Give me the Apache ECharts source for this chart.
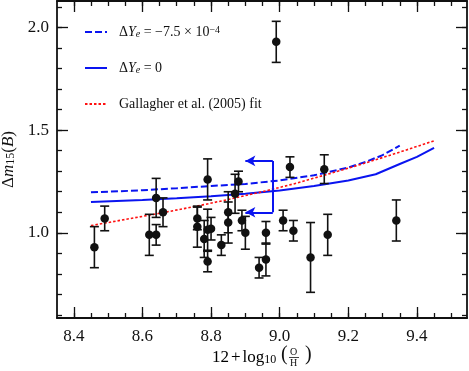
<!DOCTYPE html>
<html>
<head>
<meta charset="utf-8">
<script src="https://cdn.jsdelivr.net/npm/echarts@6/dist/echarts.min.js"></script>
<style>
html,body{margin:0;padding:0;background:#fff;}
#chart{width:469px;height:371px;}
</style>
</head>
<body>
<div id="chart"></div>
<script>
// observed SNe: metallicity, decline rate, error
const obsX = [8.46, 8.49, 8.62, 8.64, 8.64, 8.66, 8.76, 8.76, 8.78, 8.79, 8.79, 8.79, 8.80, 8.83, 8.85, 8.85,
  8.87, 8.88, 8.89, 8.90, 8.94, 8.96, 8.96, 8.99, 9.01, 9.03, 9.04, 9.09, 9.13, 9.14, 9.34];
const obsY = [0.93, 1.07, 0.99, 1.17, 0.99, 1.10, 1.07, 1.03, 0.97, 1.26, 1.015, 0.86, 1.02, 0.94, 1.10, 1.05,
  1.19, 1.25, 1.06, 1.00, 0.83, 1.00, 0.87, 1.93, 1.06, 1.32, 1.01, 0.88, 1.31, 0.99, 1.06];
const obsErr = [0.10, 0.06, 0.10, 0.095, 0.05, 0.07, 0.055, 0.10, 0.09, 0.10, 0.10, 0.05, 0.055, 0.05, 0.10, 0.10,
  0.095, 0.05, 0.05, 0.08, 0.05, 0.055, 0.08, 0.10, 0.05, 0.05, 0.05, 0.17, 0.07, 0.10, 0.10];

// model curves
const dashedX = [8.45, 8.6, 8.7, 8.8, 8.9, 9.0, 9.1, 9.2, 9.25, 9.3, 9.35];
const dashedY = [1.197, 1.207, 1.217, 1.228, 1.238, 1.255, 1.28, 1.318, 1.345, 1.378, 1.425];
const solidX = [8.45, 8.6, 8.7, 8.8, 8.9, 9.0, 9.1, 9.2, 9.28, 9.35, 9.4, 9.45];
const solidY = [1.15, 1.16, 1.168, 1.178, 1.19, 1.206, 1.228, 1.255, 1.285, 1.335, 1.37, 1.414];
const fitX = [8.45, 8.55, 8.65, 8.75, 8.85, 8.95, 9.05, 9.15, 9.25, 9.35, 9.45];
const fitY = [1.035, 1.065, 1.095, 1.127, 1.162, 1.2, 1.242, 1.29, 1.34, 1.393, 1.448];

// bracket with arrows
const bracketX = 8.98, bracketTop = 1.35, bracketBottom = 1.10, arrowTipX = 8.90;

// ticks
const xMajor = [8.4, 8.6, 8.8, 9.0, 9.2, 9.4];
const yMajor = [1.0, 1.5, 2.0];
const xMinor = [], yMinor = [];
for (let v = 8.35; v < 9.56; v += 0.05) xMinor.push(+v.toFixed(2));
for (let v = 0.6; v < 2.15; v += 0.1) yMinor.push(+v.toFixed(1));

const X_MIN = 8.351, X_MAX = 9.546, Y_MIN = 0.585, Y_MAX = 2.129;
const FONT = 'Liberation Serif';
const INK = '#111';
const BLUE = '#0a14f0';
const RED = '#ff1010';

const names = ['dYm', 'dY0', 'gal'];
const labels = {
  dYm: '{n|Δ}{i|Y}{s|e}{n| = −7.5 × 10}{p|−4}',
  dY0: '{n|Δ}{i|Y}{s|e}{n| = 0}',
  gal: '{n|Gallagher et al. (2005) fit}'
};
const rich = {
  n: {fontFamily: FONT, fontSize: 14, color: INK},
  i: {fontFamily: FONT, fontSize: 14, fontStyle: 'italic', color: INK},
  s: {fontFamily: FONT, fontSize: 10, fontStyle: 'italic', color: INK, verticalAlign: 'bottom', lineHeight: 8},
  p: {fontFamily: FONT, fontSize: 10, color: INK, verticalAlign: 'top', lineHeight: 8}
};

const pts = obsX.map((x, k) => [x, obsY[k], obsErr[k]]);
const zip = (a, b) => a.map((v, k) => [v, b[k]]);

function valueAxis(type, grid, pos, major, withLabel) {
  const isX = type === 'x';
  return {
    type: 'value', gridIndex: grid, position: pos,
    min: isX ? X_MIN : Y_MIN, max: isX ? X_MAX : Y_MAX,
    axisLine: {show: grid === 0, lineStyle: {color: INK, width: 1.8}},
    axisTick: {show: true, inside: true, length: major ? 11 : 5,
      customValues: major ? (isX ? xMajor : yMajor) : (isX ? xMinor : yMinor),
      lineStyle: {color: INK, width: 1.3}},
    axisLabel: {show: withLabel, customValues: isX ? xMajor : yMajor, margin: isX ? 10 : 8,
      color: INK, formatter: v => '{t|' + v.toFixed(1) + '}',
      rich: {t: {fontFamily: FONT, fontSize: 17, color: INK}}},
    splitLine: {show: false}
  };
}

const xAxes = [
  valueAxis('x', 0, 'bottom', true, true),
  valueAxis('x', 0, 'top', true, false),
  valueAxis('x', 1, 'bottom', false, false),
  valueAxis('x', 1, 'top', false, false)
];

const yAxes = [
  valueAxis('y', 0, 'left', true, true),
  valueAxis('y', 0, 'right', true, false),
  valueAxis('y', 1, 'left', false, false),
  valueAxis('y', 1, 'right', false, false)
];
yAxes[0].name = '{n|Δ}{i|m}{q|15}{n|(}{i|B}{n|)}';
yAxes[0].nameLocation = 'middle';
yAxes[0].nameGap = 38;
yAxes[0].nameTextStyle = {rich: {
  n: {fontFamily: FONT, fontSize: 17, color: INK},
  i: {fontFamily: FONT, fontSize: 17, fontStyle: 'italic', color: INK},
  q: {fontFamily: FONT, fontSize: 12, color: INK, verticalAlign: 'bottom', lineHeight: 10}
}};

const xNameRich = {
  n: {fontFamily: FONT, fontSize: 17, color: INK},
  op: {fontFamily: FONT, fontSize: 17, color: INK, padding: [0, 2, 0, 2]},
  q: {fontFamily: FONT, fontSize: 12, color: INK, verticalAlign: 'bottom', lineHeight: 10}
};

const chart = echarts.init(document.getElementById('chart'));
const option = {
  animation: false,
  textStyle: {fontFamily: FONT},
  grid: [
    {left: 57, top: 1, width: 410, height: 317, outerBoundsMode: 'none'},
    {left: 57, top: 1, width: 410, height: 317, outerBoundsMode: 'none'}
  ],
  xAxis: xAxes,
  yAxis: yAxes,
  legend: {
    data: names, orient: 'vertical', left: 84, top: 25, padding: 0,
    itemWidth: 22, itemHeight: 12, itemGap: 22,
    itemStyle: {opacity: 0},
    formatter: n => labels[n],
    textStyle: {padding: [0, 0, 0, 7], rich: rich}
  },
  graphic: [
    {type: 'text', left: 212, top: 349, style: {text: '{n|12}{op|+}{n|log}{q|10}', rich: xNameRich}},
    {type: 'text', left: 281, top: 345, style: {text: '(', font: '20px "Liberation Serif"', fill: INK}},
    {type: 'text', left: 290, top: 347, style: {text: 'O', font: '10px "Liberation Serif"', fill: INK}},
    {type: 'line', shape: {x1: 289, y1: 357.5, x2: 299, y2: 357.5}, style: {stroke: INK, lineWidth: 0.8}},
    {type: 'text', left: 290, top: 358, style: {text: 'H', font: '10px "Liberation Serif"', fill: INK}},
    {type: 'text', left: 305, top: 345, style: {text: ')', font: '20px "Liberation Serif"', fill: INK}}
  ],
  series: [
    {
      type: 'custom', name: 'err', data: pts, z: 3,
      encode: {x: 0, y: 1},
      renderItem: function (params, api) {
        const x = api.value(0), y = api.value(1), e = api.value(2);
        const top = api.coord([x, y + e]);
        const bot = api.coord([x, y - e]);
        const st = {stroke: INK, lineWidth: 1.6};
        return {type: 'group', children: [
          {type: 'line', shape: {x1: top[0], y1: top[1], x2: bot[0], y2: bot[1]}, style: st},
          {type: 'line', shape: {x1: top[0] - 4.5, y1: top[1], x2: top[0] + 4.5, y2: top[1]}, style: st},
          {type: 'line', shape: {x1: bot[0] - 4.5, y1: bot[1], x2: bot[0] + 4.5, y2: bot[1]}, style: st}
        ]};
      }
    },
    {
      type: 'scatter', name: 'obs', data: pts, z: 4,
      symbolSize: 8.5, itemStyle: {color: INK, opacity: 1}
    },
    {
      type: 'line', name: 'dYm', data: zip(dashedX, dashedY), symbol: 'none', z: 2,
      lineStyle: {color: BLUE, width: 2, type: [7, 3]}, itemStyle: {color: BLUE}
    },
    {
      type: 'line', name: 'dY0', data: zip(solidX, solidY), symbol: 'none', z: 2,
      lineStyle: {color: BLUE, width: 2}, itemStyle: {color: BLUE}
    },
    {
      type: 'line', name: 'gal', data: zip(fitX, fitY), symbol: 'none', z: 2,
      lineStyle: {color: RED, width: 1.6, type: [2.5, 2]}, itemStyle: {color: RED}
    },
    {
      type: 'line', name: 'bracket', data: [], z: 2,
      markLine: {
        silent: true, animation: false, symbol: ['none', 'none'],
        label: {show: false},
        lineStyle: {color: BLUE, width: 2, type: 'solid'},
        data: [
          [{coord: [bracketX, bracketTop]}, {coord: [bracketX, bracketBottom]}],
          [{coord: [bracketX, bracketTop], symbol: 'none'}, {coord: [arrowTipX, bracketTop], symbol: 'arrow', symbolSize: [8, 10]}],
          [{coord: [bracketX, bracketBottom], symbol: 'none'}, {coord: [arrowTipX, bracketBottom], symbol: 'arrow', symbolSize: [8, 10]}]
        ]
      }
    }
  ]
};
chart.setOption(option);
</script>
</body>
</html>
